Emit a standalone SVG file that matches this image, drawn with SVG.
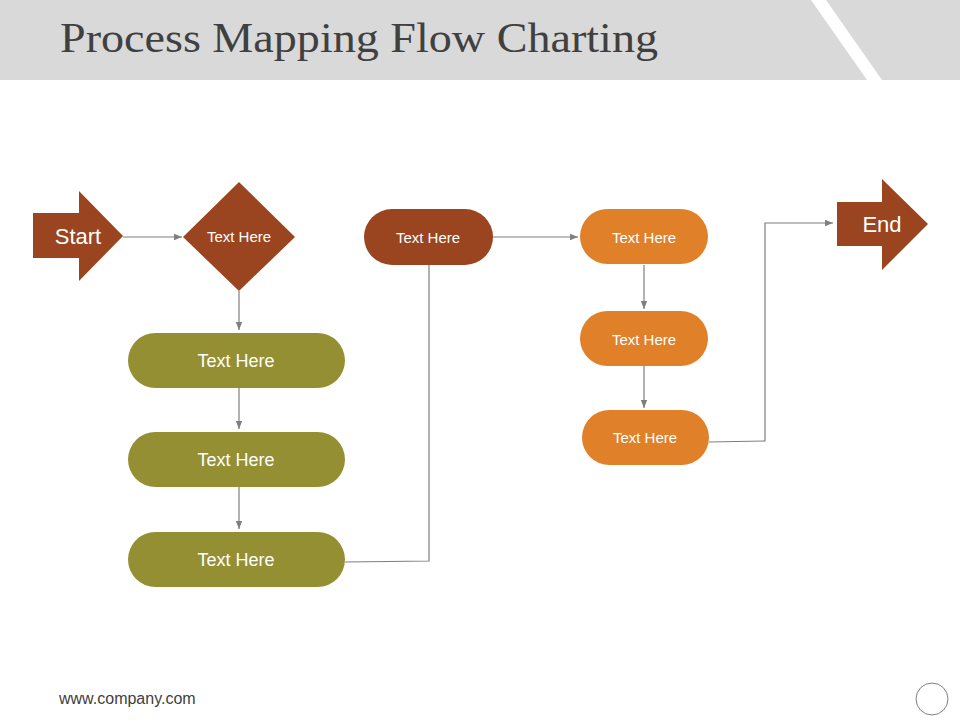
<svg xmlns="http://www.w3.org/2000/svg" width="960" height="720" viewBox="0 0 960 720">
<style>
.t{font-family:"Liberation Sans",Arial,sans-serif;fill:#fff;text-anchor:middle}
.c{fill:none;stroke:#7f7f7f;stroke-width:1.2}
.br{fill:#9a4520}.ol{fill:#948f33}.or{fill:#e08029}
</style>
<defs><marker id="a" viewBox="0 0 10 10" refX="10" refY="5" markerWidth="7" markerHeight="7" orient="auto"><path d="M0,1 L10,5 L0,9 z" fill="#7f7f7f"/></marker></defs>
<rect x="0" y="0" width="960" height="80" fill="#d9d9d9"/>
<polygon points="811,0 826,0 882,80 867,80" fill="#fff"/>
<text x="60" y="52" font-family="Liberation Serif,serif" font-size="42" fill="#404040" textLength="598" lengthAdjust="spacingAndGlyphs">Process Mapping Flow Charting</text>
<g id="connectors">
<line class="c" x1="123" y1="237" x2="182" y2="237" marker-end="url(#a)"/>
<line class="c" x1="239" y1="291" x2="239" y2="330" marker-end="url(#a)"/>
<line class="c" x1="239" y1="388" x2="239" y2="429" marker-end="url(#a)"/>
<line class="c" x1="239" y1="487" x2="239" y2="529" marker-end="url(#a)"/>
<polyline class="c" points="345,562 429,561 429,265"/>
<line class="c" x1="493" y1="237" x2="578" y2="237" marker-end="url(#a)"/>
<line class="c" x1="644" y1="265" x2="644" y2="309" marker-end="url(#a)"/>
<line class="c" x1="644" y1="366" x2="644" y2="408" marker-end="url(#a)"/>
<polyline class="c" points="709,442 765,441 765,223 833,223" marker-end="url(#a)"/>
</g>
<g id="start"><polygon class="br" points="33,213 79,213 79,191 123,236 79,281 79,258 33,258"/><text class="t" x="78" y="244" font-size="22">Start</text></g>
<g id="decision"><polygon class="br" points="239,182 295,237 239,291 183,237"/><text class="t" x="239" y="242" font-size="15">Text Here</text></g>
<g id="g1"><rect class="ol" x="128" y="333" width="217" height="55" rx="27.5"/><text class="t" x="236" y="367" font-size="18">Text Here</text></g>
<g id="g2"><rect class="ol" x="128" y="432" width="217" height="55" rx="27.5"/><text class="t" x="236" y="466" font-size="18">Text Here</text></g>
<g id="g3"><rect class="ol" x="128" y="532" width="217" height="55" rx="27.5"/><text class="t" x="236" y="566" font-size="18">Text Here</text></g>
<g id="b1"><rect class="br" x="364" y="209" width="129" height="56" rx="28"/><text class="t" x="428" y="243" font-size="15">Text Here</text></g>
<g id="o1"><rect class="or" x="580" y="209" width="128" height="55" rx="27.5"/><text class="t" x="644" y="243" font-size="15">Text Here</text></g>
<g id="o2"><rect class="or" x="580" y="311" width="128" height="55" rx="27.5"/><text class="t" x="644" y="345" font-size="15">Text Here</text></g>
<g id="o3"><rect class="or" x="582" y="410" width="127" height="55" rx="27.5"/><text class="t" x="645" y="443" font-size="15">Text Here</text></g>
<g id="end"><polygon class="br" points="837,202 882,202 882,179 928,224 882,270 882,246 837,246"/><text class="t" x="882" y="232" font-size="22">End</text></g>
<text x="59" y="704" font-family="Liberation Sans,Arial,sans-serif" font-size="16" fill="#404040">www.company.com</text>
<circle cx="932" cy="699" r="16" fill="#fff" stroke="#7f7f7f" stroke-width="1"/>
</svg>
